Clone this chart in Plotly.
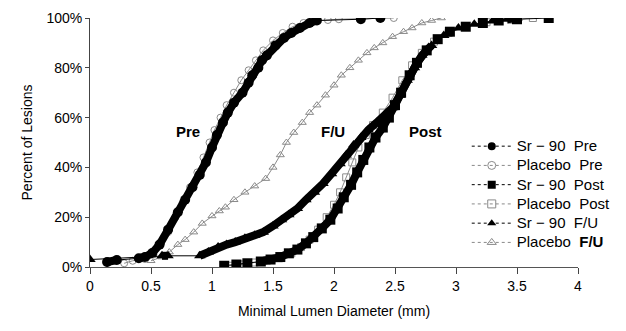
import plotly.graph_objects as go

# ---- data: minimal lumen diameter (mm) vs cumulative percent of lesions ----
sr_pre_x = [0.14, 0.22, 0.40, 0.45, 0.51, 0.57, 0.64, 0.72, 0.78, 0.84, 0.90, 0.95, 1.00, 1.04, 1.09,
            1.13, 1.18, 1.25, 1.30, 1.33, 1.38, 1.41, 1.45, 1.52, 1.59, 1.65, 1.72, 1.80, 1.86, 2.22, 2.38]
sr_pre_y = [2.0, 2.8, 3.5, 4.0, 5.6, 9, 15, 22, 27, 32, 37, 42, 48, 53, 58,
            62, 66, 70, 74, 77, 80, 83, 85, 89, 92, 94, 96, 98, 99, 99.5, 100]

pl_pre_x = [0.28, 0.35, 0.45, 0.52, 0.58, 0.64, 0.70, 0.76, 0.82, 0.88, 0.93, 0.98, 1.02, 1.07,
            1.12, 1.18, 1.24, 1.30, 1.36, 1.42, 1.50, 1.58, 1.66, 1.75, 1.85, 1.95, 2.04, 2.49]
pl_pre_y = [1.5, 2.5, 3.2, 5, 9, 14, 20, 26, 32, 38, 44, 50, 55, 60,
            65, 70, 75, 79, 83, 87, 91, 94, 96.5, 98, 98.8, 99.2, 99.5, 100]

sr_post_x = [1.10, 1.20, 1.29, 1.40, 1.48, 1.56, 1.63, 1.70, 1.77, 1.83, 1.90, 1.97, 2.03, 2.08, 2.14,
             2.19, 2.24, 2.29, 2.34, 2.40, 2.45, 2.50, 2.55, 2.62, 2.68, 2.76, 2.85, 2.95, 3.08, 3.22,
             3.35, 3.50, 3.76]
sr_post_y = [0.5, 1.0, 1.5, 2.2, 3, 4, 5.5, 7, 9.5, 12, 15.5, 19, 23.5, 28, 33,
             38, 43, 48, 52, 56, 60, 65, 70, 77, 82, 87, 91.5, 94.5, 96.5, 98,
             99, 99.5, 100]

pl_post_x = [1.15, 1.25, 1.35, 1.45, 1.55, 1.65, 1.73, 1.80, 1.87, 1.94, 2.00, 2.05, 2.10, 2.15,
             2.20, 2.26, 2.32, 2.40, 2.48, 2.56, 2.64, 2.72, 2.82, 2.94, 3.08, 3.25, 3.45, 3.63]
pl_post_y = [0.5, 1, 1.8, 2.5, 3.5, 5.5, 8, 11, 15, 20, 25, 30, 36, 42,
             48, 53, 57, 62, 68, 75, 81, 86, 90.5, 94, 96.5, 98.3, 99.3, 100]

sr_fu_x = [0.0, 0.59, 0.64, 0.90, 0.97, 1.05, 1.12, 1.19, 1.27, 1.35, 1.42, 1.50, 1.57, 1.63, 1.70,
           1.77, 1.84, 1.91, 1.98, 2.05, 2.10, 2.16, 2.22, 2.28, 2.35, 2.42, 2.48, 2.54, 2.60, 2.66,
           2.72, 2.80, 2.90, 3.02, 3.15, 3.30, 3.42, 3.50]
sr_fu_y = [3.0, 4.5, 4.5, 4.5, 6, 8, 9, 10, 11.5, 12.8, 14, 16.5, 19, 21, 23.5,
           27, 30, 33.5, 37.5, 41.5, 45, 49, 52, 55, 58, 61, 64, 69, 75, 80,
           85, 89, 93, 96, 97.5, 98.8, 99.5, 100]

pl_fu_x = [0.50, 0.59, 0.65, 0.72, 0.78, 0.85, 0.92, 1.00, 1.06, 1.11, 1.18, 1.27, 1.35, 1.44, 1.50,
           1.56, 1.61, 1.67, 1.74, 1.80, 1.86, 1.93, 2.00, 2.06, 2.13, 2.20, 2.27, 2.33, 2.40, 2.48,
           2.57, 2.64, 2.72, 2.80, 2.88]
pl_fu_y = [2.5, 4, 6, 9, 11, 14, 17.5, 20.5, 22.5, 24, 27, 30, 32.5, 35.5, 40,
           45, 50, 54, 58, 62, 65, 69, 73, 77, 80, 83, 86, 88, 90, 92.5,
           94.5, 96, 98, 99, 100]

legend_names = ["Sr \u2212 90\u00a0\u00a0Pre", "Placebo\u00a0\u00a0Pre", "Sr \u2212 90\u00a0\u00a0Post",
                "Placebo\u00a0\u00a0Post", "Sr \u2212 90\u00a0\u00a0F/U", "Placebo\u00a0\u00a0<b>F/U</b>"]
x_ticks = [0, 0.5, 1, 1.5, 2, 2.5, 3, 3.5, 4]
x_tick_text = ["0", "0.5", "1", "1.5", "2", "2.5", "3", "3.5", "4"]
y_ticks = [0, 20, 40, 60, 80, 100]
y_tick_text = ["0%", "20%", "40%", "60%", "80%", "100%"]
group_labels = ["Pre", "F/U", "Post"]
group_label_x = [0.80, 1.99, 2.75]
group_label_y = [54.5, 54.5, 54.5]

BLACK = "#000000"
GRAY = "#8a8a8a"


def dense_segments(xs, ys, gap=0.085):
    """Break the thick 'band' where consecutive observations are far apart."""
    bx, by = [xs[0]], [ys[0]]
    for i in range(1, len(xs)):
        if xs[i] - xs[i - 1] > gap:
            bx.append(None)
            by.append(None)
        bx.append(xs[i])
        by.append(ys[i])
    return bx, by


fig = go.Figure()

placebo = [(pl_pre_x, pl_pre_y, "circle-open"),
           (pl_post_x, pl_post_y, "square-open"),
           (pl_fu_x, pl_fu_y, "triangle-up-open")]
for xs, ys, sym in placebo:
    fig.add_trace(go.Scatter(x=xs, y=ys, mode="lines+markers", showlegend=False,
                             line=dict(color=GRAY, width=1),
                             marker=dict(symbol=sym, size=7, color=GRAY, line=dict(width=1, color=GRAY))))

active = [(sr_pre_x, sr_pre_y, "circle"),
          (sr_post_x, sr_post_y, "square"),
          (sr_fu_x, sr_fu_y, "triangle-up")]
for xs, ys, sym in active:
    bx, by = dense_segments(xs, ys)
    fig.add_trace(go.Scatter(x=bx, y=by, mode="lines", showlegend=False, connectgaps=False,
                             line=dict(color=BLACK, width=8)))
    fig.add_trace(go.Scatter(x=xs, y=ys, mode="lines+markers", showlegend=False,
                             line=dict(color=BLACK, width=1),
                             marker=dict(symbol=sym, size=10, color=BLACK)))

# legend entries (order as in the reference)
leg_styles = [("circle", BLACK), ("circle-open", GRAY),
              ("square", BLACK), ("square-open", GRAY),
              ("triangle-up", BLACK), ("triangle-up-open", GRAY)]
for name, (sym, col) in zip(legend_names, leg_styles):
    fig.add_trace(go.Scatter(x=[None], y=[None], mode="lines+markers",
                             name='<span style="font-size:15px">%s</span>' % name,
                             line=dict(color=col, width=1, dash="dot"),
                             marker=dict(symbol=sym, size=8, color=col)))

for t, gx, gy in zip(group_labels, group_label_x, group_label_y):
    fig.add_annotation(x=gx, y=gy, text="<b>%s</b>" % t, showarrow=False,
                       font=dict(size=15, color=BLACK, family="Liberation Sans, Arial"))

# page body carries an 8px default margin; margins compensate for it
fig.update_layout(
    width=626, height=331,
    margin=dict(l=82, r=56, t=10, b=72),
    paper_bgcolor="white", plot_bgcolor="white",
    font=dict(family="Liberation Sans, Arial, sans-serif", size=14, color=BLACK),
    legend=dict(x=0.772, y=0.544, xanchor="left", yanchor="top",
                bgcolor="rgba(0,0,0,0)", font=dict(size=12.5), tracegroupgap=0,
                itemwidth=40),
    xaxis=dict(range=[0, 4], tickvals=x_ticks, ticktext=x_tick_text, automargin=False,
               showgrid=False, zeroline=False, showline=True, linecolor="#555", linewidth=1,
               ticks="outside", ticklen=6, tickcolor="#444",
               title=dict(text="Minimal Lumen Diameter (mm)", font=dict(size=14), standoff=13)),
    yaxis=dict(range=[0, 100], tickvals=y_ticks, ticktext=y_tick_text, automargin=False,
               showgrid=False, zeroline=False, showline=True, linecolor="#444", linewidth=1,
               ticks="outside", ticklen=4, tickcolor="#444",
               title=dict(text="Percent of Lesions", font=dict(size=14), standoff=10)),
)

fig.write_html("out.html")
